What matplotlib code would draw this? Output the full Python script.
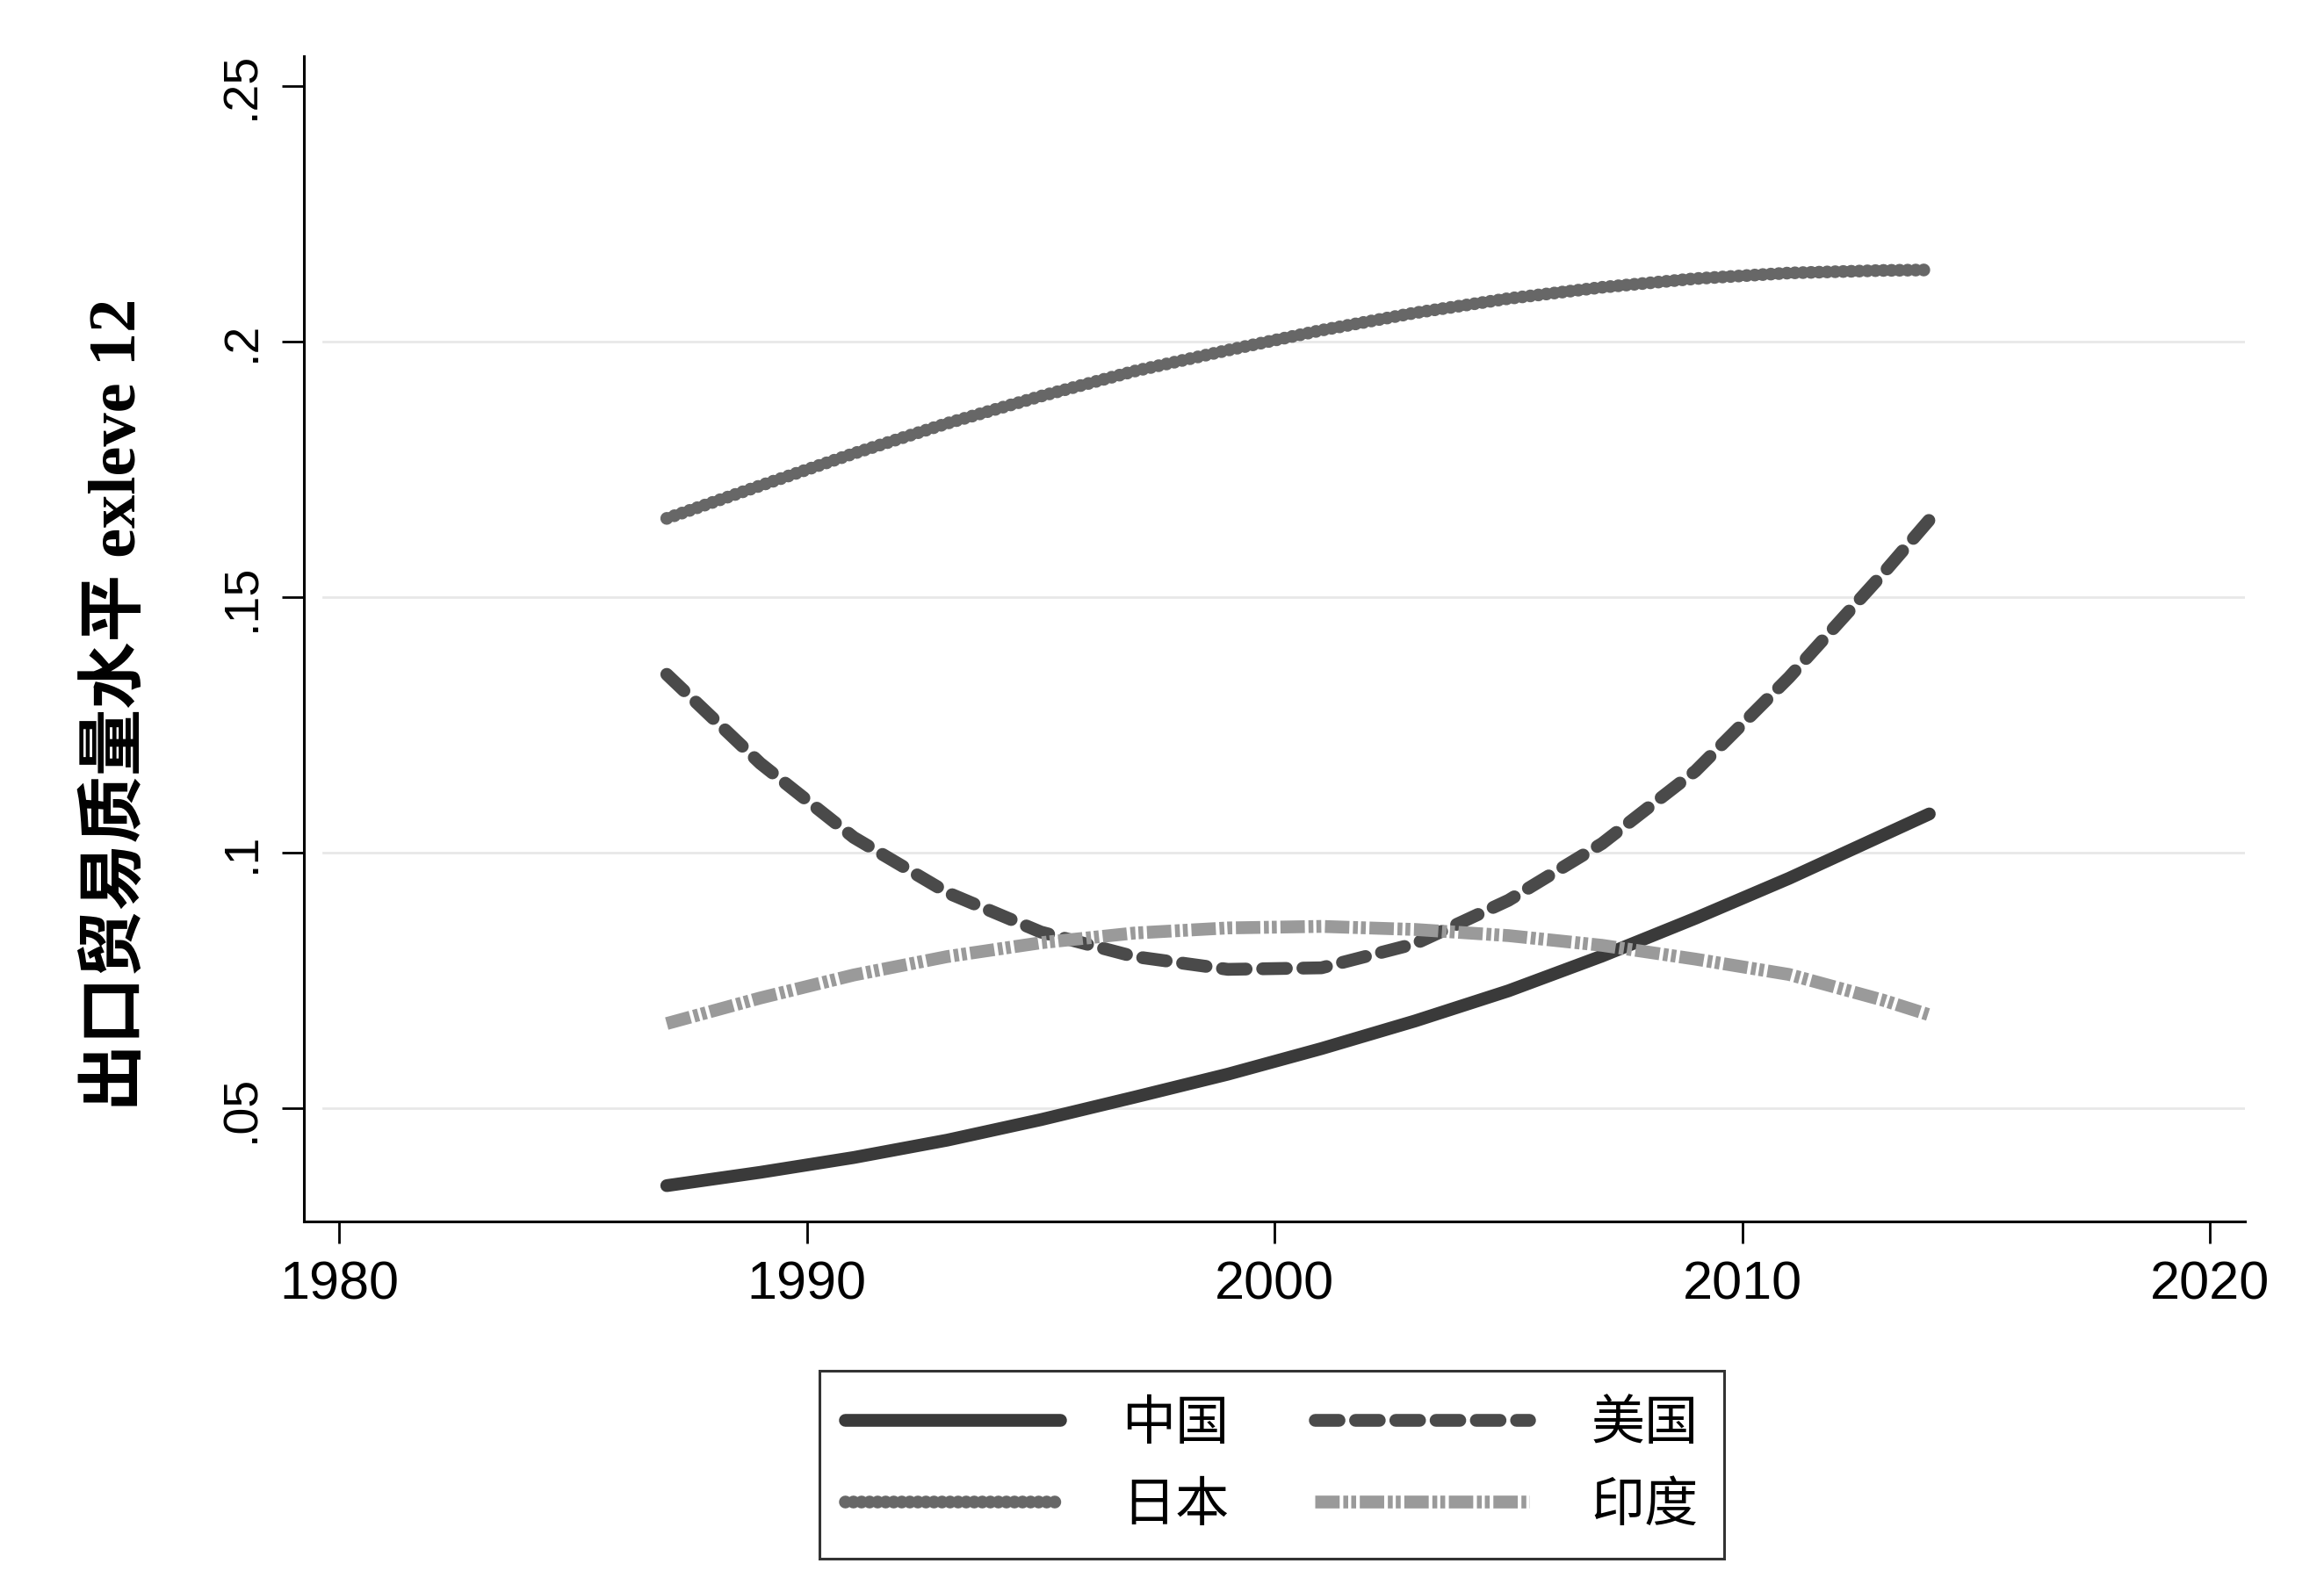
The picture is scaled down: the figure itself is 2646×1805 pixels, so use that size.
import matplotlib
matplotlib.use("Agg")
import matplotlib.pyplot as plt
from matplotlib import font_manager
from matplotlib.font_manager import FontProperties

# narrow digits like the reference, if the font is there
names = {f.name for f in font_manager.fontManager.ttflist}
num_font = "Liberation Sans Narrow" if "Liberation Sans Narrow" in names else "Liberation Sans"
cjk_font = "Noto Sans CJK SC"

plt.rcParams["lines.scale_dashes"] = False

# values
years = [1987, 1989, 1991, 1993, 1995, 1997, 1999, 2001, 2003, 2005, 2007, 2009, 2011, 2013, 2014]
china = [0.0349, 0.0375, 0.0404, 0.0438, 0.0478, 0.0522, 0.0567, 0.0617,
         0.0671, 0.0730, 0.0798, 0.0872, 0.0950, 0.1034, 0.1076]
usa = [0.1349, 0.1175, 0.1030, 0.0922, 0.0845, 0.0797, 0.0772, 0.0775,
       0.0822, 0.0907, 0.1018, 0.1160, 0.1343, 0.1545, 0.1651]
japan = [0.1654, 0.1718, 0.1781, 0.1840, 0.1893, 0.1942, 0.1983, 0.2022,
         0.2056, 0.2084, 0.2106, 0.2123, 0.2134, 0.2139, 0.2140]
india = [0.0666, 0.0716, 0.0761, 0.0797, 0.0824, 0.0843, 0.0853, 0.0856,
         0.0850, 0.0838, 0.0819, 0.0792, 0.0762, 0.0712, 0.0683]
labels = ["中国", "美国", "日本", "印度"]

xticks = [1980, 1990, 2000, 2010, 2020]
yticks = [0.05, 0.10, 0.15, 0.20, 0.25]
ytick_labels = [".05", ".1", ".15", ".2", ".25"]
grid_vals = [0.05, 0.10, 0.15, 0.20]

fig = plt.figure(figsize=(26.46, 18.05), dpi=100)
ax = fig.add_axes([0.13076, 0.22936, 0.83522, 0.73518])

for v in grid_vals:
    ax.axhline(v, xmin=0.01, xmax=1, color="#e8e8e8", lw=2, zorder=0)

lw = 10.5
l_cn, = ax.plot(years, china, color="#3a3a3a", lw=lw, solid_capstyle="round", label=labels[0])
l_us, = ax.plot(years, usa, color="#4a4a4a", lw=lw, dashes=(19.5, 13.5), dash_capstyle="round", label=labels[1])
l_jp, = ax.plot(years, japan, color="#676767", lw=lw, dashes=(0.1, 6.5), dash_capstyle="round", label=labels[2])
l_in, = ax.plot(years, india, color="#9a9a9a", lw=lw, dashes=(20, 3, 4, 2.5, 4, 3), dash_capstyle="butt", label=labels[3])

ax.set_xlim(1979.24, 2020.75)
ax.set_ylim(0.02789, 0.2558)

ax.set_xticks(xticks)
ax.set_xticklabels([str(x) for x in xticks], family=num_font, fontsize=44)
ax.set_yticks(yticks)
ax.set_yticklabels(ytick_labels, family=num_font, fontsize=40, rotation=90, va="center")

ax.tick_params(axis="x", length=18, width=2, pad=14, direction="out")
ax.tick_params(axis="y", length=18, width=2, pad=14, direction="out")

for s in ["top", "right"]:
    ax.spines[s].set_visible(False)
for s in ["left", "bottom"]:
    ax.spines[s].set_linewidth(2.2)
    ax.spines[s].set_color("black")

fig.text(133 / 2646, 1 - 802 / 1805, "出口贸易质量水平 exleve 12", rotation=90,
         ha="center", va="center", fontsize=55, fontweight="bold",
         family=["Liberation Serif", cjk_font])

# rows: 中国 美国 / 日本 印度 (legend fills column by column)
leg = fig.legend([l_cn, l_jp, l_us, l_in], [labels[0], labels[2], labels[1], labels[3]],
                 loc="upper center", bbox_to_anchor=(1448 / 2646, 1 - 1561 / 1805),
                 ncol=2, frameon=True, fancybox=False, edgecolor="black",
                 prop=FontProperties(family=cjk_font, size=44),
                 handlelength=4.0, handletextpad=1.15, columnspacing=1.6,
                 borderpad=0.475, labelspacing=0.5, borderaxespad=0)
leg.get_frame().set_linewidth(2.2)

fig.savefig("out.png", dpi=100)
